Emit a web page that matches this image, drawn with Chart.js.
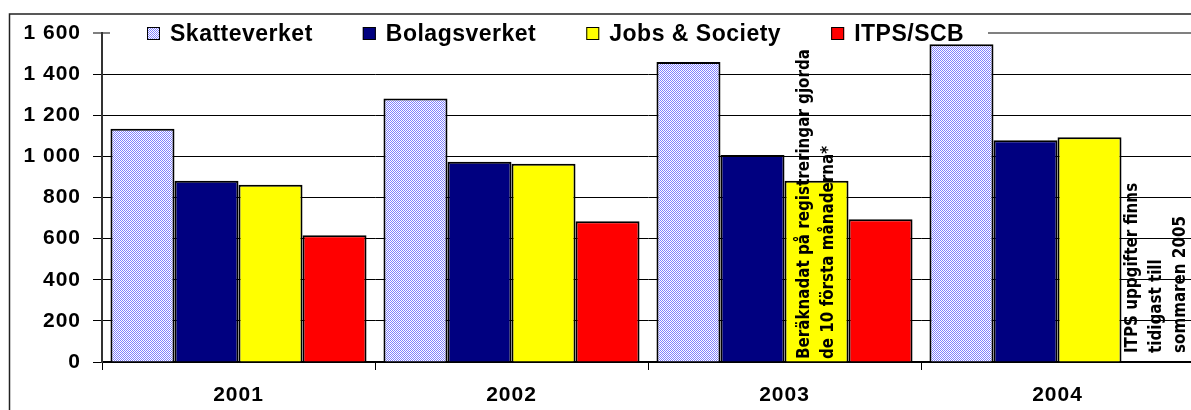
<!DOCTYPE html>
<html><head><meta charset="utf-8">
<script src="https://cdn.jsdelivr.net/npm/chart.js@4/dist/chart.umd.min.js"></script>
<style>
html,body{margin:0;padding:0;overflow:hidden;background:#fff;width:1191px;height:410px}
#wrap{position:relative;width:1196px;height:410px}
canvas{display:block}
</style>
</head><body><div id="wrap"><canvas id="c" width="1196" height="410"></canvas></div>
<script>
const categories = ['2001', '2002', '2003', '2004'];
const skatteverket = [1134, 1281, 1459, 1545];
const bolagsverket = [882, 974, 1007, 1078];
const jobsSociety = [862, 964, 882, 1093];
const itpsScb = [616, 684, 694, null];
const seriesNames = ['Skatteverket', 'Bolagsverket', 'Jobs & Society', 'ITPS/SCB'];
const yTickLabels = ['0', '200', '400', '600', '800', '1 000', '1 200', '1 400', '1 600'];
const note2003 = ['Beräknadat på registreringar gjorda', 'de 10 första månaderna*'];
const note2004 = ['ITPS uppgifter finns', 'tidigast till', 'sommaren 2005'];

const canvas = document.getElementById('c');
const ctx = canvas.getContext('2d');
const pc = document.createElement('canvas');
pc.width = 2; pc.height = 2;
const pg = pc.getContext('2d');
pg.fillStyle = '#ffffff'; pg.fillRect(0, 0, 2, 2);
pg.fillStyle = '#8080ff'; pg.fillRect(0, 0, 1, 1); pg.fillRect(1, 1, 1, 1);
const pattern = ctx.createPattern(pc, 'repeat');

const colors = [pattern, '#000080', '#ffff00', '#ff0000'];
const LS = '1px';
const boldFont = {family: "'Liberation Sans', Arial, sans-serif", weight: 'bold', size: 21};

const spacingPlugin = {
  id: 'spacing',
  beforeUpdate(chart) { chart.ctx.letterSpacing = LS; },
  beforeDraw(chart) {
    const c = chart.ctx;
    c.letterSpacing = LS;
    c.save();
    c.fillStyle = '#fff';
    c.fillRect(0, 0, chart.width, chart.height);
    c.strokeStyle = '#222';
    c.lineWidth = 1.5;
    c.strokeRect(9.5, 14, chart.width + 50, chart.height + 50);
    c.restore();
  }
};

const legendPlugin = {
  id: 'customLegend',
  beforeDatasetsDraw(chart) {
    const c = chart.ctx;
    const area = chart.chartArea;
    c.save();
    c.letterSpacing = '0.5px';
    c.fillStyle = '#fff';
    c.fillRect(area.left + 8, area.top - 12, 878, 23);
    c.font = "bold 23px 'Liberation Sans', Arial, sans-serif";
    c.textBaseline = 'middle';
    c.textAlign = 'left';
    let x = area.left + 45;
    const yc = area.top + 0.5;
    chart.data.datasets.forEach((ds) => {
      c.fillStyle = ds.backgroundColor;
      c.fillRect(x, yc - 6.5, 13, 13);
      c.strokeStyle = '#000';
      c.lineWidth = 1;
      c.strokeRect(x + 0.5, yc - 6, 12, 12);
      c.fillStyle = '#000';
      c.fillText(ds.label, x + 23, yc + 1);
      x += 23 + c.measureText(ds.label).width + 50;
    });
    c.restore();
  }
};

const notesPlugin = {
  id: 'notes',
  afterDatasetsDraw(chart) {
    const c = chart.ctx;
    const y0 = chart.scales.y.getPixelForValue(0);
    const jobsMeta = chart.getDatasetMeta(2);
    c.save();
    c.letterSpacing = '0px';
    c.font = "bold 18px 'DejaVu Sans Condensed', 'DejaVu Sans', sans-serif";
    c.fillStyle = '#000';
    c.textBaseline = 'middle';
    c.textAlign = 'left';
    const sx = 310 / c.measureText(note2003[0]).width;
    const drawNote = (lines, x0, yb) => {
      lines.forEach((t, i) => {
        c.save();
        c.translate(x0 + i * 24, yb);
        c.rotate(-Math.PI / 2);
        c.scale(sx, 1);
        c.fillText(t, 0, 0);
        c.restore();
      });
    };
    const b3 = jobsMeta.data[2];
    drawNote(note2003, b3.x - b3.width / 2 + 20, y0 - 3);
    const b4 = jobsMeta.data[3];
    drawNote(note2004, b4.x + b4.width / 2 + 11, y0 - 9);
    c.restore();
  }
};

const seriesData = [skatteverket, bolagsverket, jobsSociety, itpsScb];

new Chart(ctx, {
  type: 'bar',
  data: {
    labels: categories,
    datasets: seriesNames.map((n, i) => ({
      label: n,
      data: seriesData[i],
      backgroundColor: colors[i],
      borderColor: '#000',
      borderWidth: 2,
      borderSkipped: 'bottom',
      categoryPercentage: 0.938,
      barPercentage: 1
    }))
  },
  options: {
    responsive: false,
    animation: false,
    devicePixelRatio: 1,
    layout: {padding: {top: 33, right: 2, left: 0, bottom: 0}},
    plugins: {legend: {display: false}, tooltip: {enabled: false}},
    scales: {
      x: {
        grid: {display: true, drawOnChartArea: false, offset: true, tickLength: 8, color: '#000', lineWidth: 1},
        border: {color: '#000', width: 2},
        ticks: {font: boldFont, color: '#000', padding: 13, maxRotation: 0},
        afterFit(s) { s.height = 48; }
      },
      y: {
        min: 0, max: 1600,
        ticks: {stepSize: 200, callback: (v, i) => yTickLabels[i], font: boldFont, color: '#000', padding: 12},
        grid: {
          color: (c) => c.index === 8 ? '#808080' : '#000',
          lineWidth: (c) => c.index === 8 ? 2 : 1,
          tickLength: 9
        },
        border: {color: '#333', width: 2},
        afterFit(s) { s.width = 102; }
      }
    }
  },
  plugins: [spacingPlugin, legendPlugin, notesPlugin]
});
</script>
</body></html>
